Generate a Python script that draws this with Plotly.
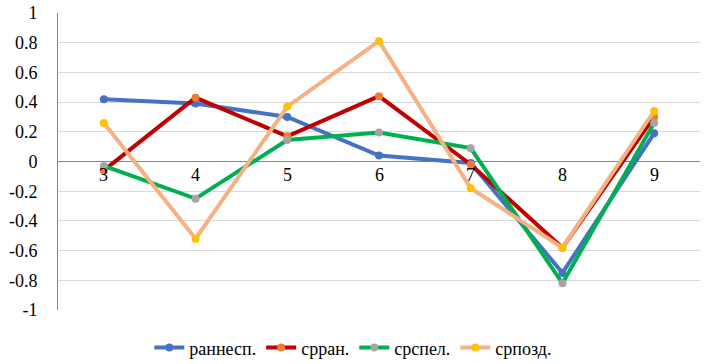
import plotly.graph_objects as go

categories = ["3", "4", "5", "6", "7", "8", "9"]
series_names = ["раннесп.", "срран.", "срспел.", "српозд."]
rannesp = [0.42, 0.39, 0.30, 0.04, -0.01, -0.75, 0.19]
srran = [-0.06, 0.43, 0.17, 0.44, -0.02, -0.58, 0.30]
srspel = [-0.03, -0.25, 0.145, 0.195, 0.09, -0.82, 0.26]
srpozd = [0.26, -0.52, 0.37, 0.81, -0.18, -0.58, 0.34]
y_ticks = [-1, -0.8, -0.6, -0.4, -0.2, 0, 0.2, 0.4, 0.6, 0.8, 1]
y_tick_labels = ["-1", "-0.8", "-0.6", "-0.4", "-0.2", "0", "0.2", "0.4", "0.6", "0.8", "1"]

line_colors = ["#4472C4", "#C00000", "#00B050", "#F4B183"]
marker_colors = ["#4472C4", "#ED7D31", "#A5A5A5", "#FFC000"]

x_pos = [int(c) for c in categories]

fig = go.Figure()
for name, vals, lc, mc in zip(series_names, [rannesp, srran, srspel, srpozd], line_colors, marker_colors):
    fig.add_trace(go.Scatter(
        x=x_pos, y=vals, name=name, mode="lines+markers",
        line=dict(color=lc, width=4),
        marker=dict(color=mc, size=8),
    ))

font_family = "Liberation Serif"

# category labels sit just under the zero line, as in the reference
for xp, c in zip(x_pos, categories):
    fig.add_annotation(x=xp, y=0, xref="x", yref="y", text=c, showarrow=False,
                       yanchor="top", yshift=-1,
                       font=dict(family=font_family, size=18, color="#000000"))

fig.update_layout(
    template="none",
    width=709, height=364,
    margin=dict(l=58, r=9, t=13, b=54, autoexpand=False),
    paper_bgcolor="white", plot_bgcolor="white",
    font=dict(family=font_family, size=18, color="#000000"),
    showlegend=True,
    legend=dict(orientation="h", x=0.46, xanchor="center", y=-0.065, yanchor="top",
                bgcolor="rgba(0,0,0,0)",
                font=dict(family=font_family, size=18, color="#000000"), tracegroupgap=0),
    xaxis=dict(range=[x_pos[0] - 0.5, x_pos[-1] + 0.5], showline=False, showgrid=False,
               zeroline=False, showticklabels=False, ticks=""),
    yaxis=dict(range=[-1, 1], tickvals=y_ticks, ticktext=y_tick_labels,
               showline=True, linecolor="#868686", linewidth=1,
               showgrid=True, gridcolor="#D9D9D9", gridwidth=1,
               zeroline=True, zerolinecolor="#868686", zerolinewidth=1,
               ticks="outside", ticklen=16, tickcolor="rgba(0,0,0,0)",
               tickfont=dict(family=font_family, size=18, color="#000000")),
)
fig.write_html("out.html", config={"displayModeBar": False},
               post_script="document.body.style.margin='0px';")
